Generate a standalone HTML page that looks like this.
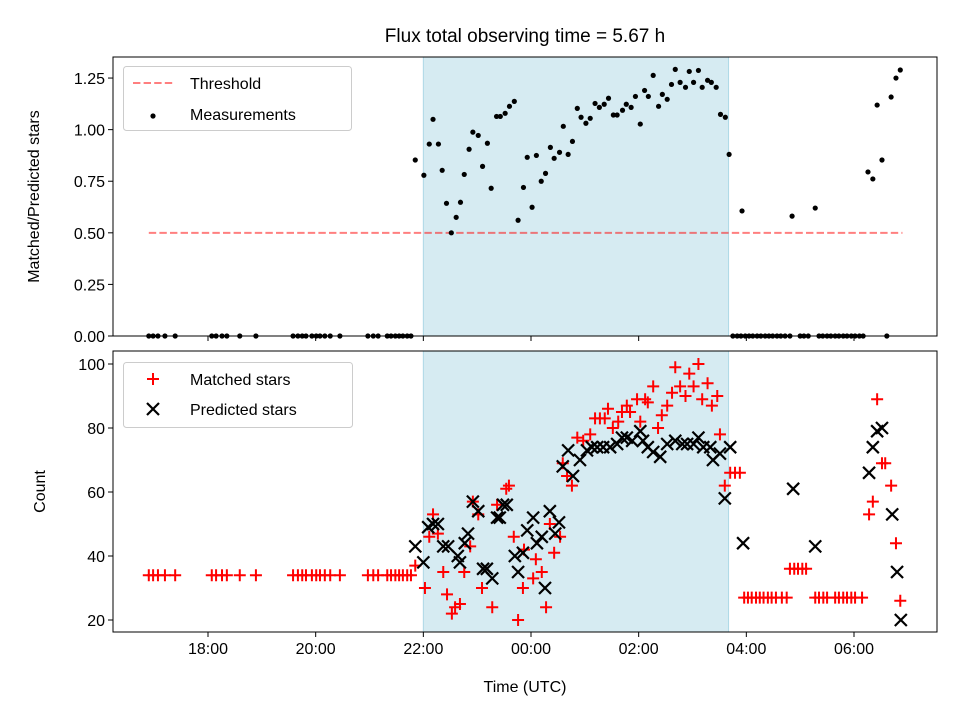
<!DOCTYPE html>
<html><head><meta charset="utf-8"><style>
body{margin:0;background:#fff;}
svg{display:block;font-family:"Liberation Sans","DejaVu Sans",sans-serif;}
</style></head><body>
<svg id="chart" width="960" height="720"></svg>
<script>
// ---- data (times in hours UTC; >24 means after midnight) ----
const ratioZeroTimes=[16.90,16.98,17.07,17.20,17.39,18.07,18.15,18.26,18.35,18.59,18.89,19.58,19.67,19.75,19.82,19.93,20.01,20.08,20.17,20.27,20.45,20.97,21.07,21.16,21.33,21.40,21.48,21.55,21.62,21.70,21.77,
27.75,27.83,27.90,27.98,28.05,28.12,28.20,28.27,28.35,28.42,28.49,28.57,28.64,28.72,28.81,29.00,29.07,29.15,29.35,29.42,29.50,29.57,29.65,29.72,29.80,29.87,29.95,30.02,30.10,30.17,30.61];
const ratioTimes=[21.85,22.01,22.11,22.18,22.28,22.35,22.43,22.52,22.61,22.69,22.76,22.85,22.92,23.02,23.10,23.19,23.26,23.36,23.43,23.52,23.60,23.69,23.76,23.86,23.93,24.02,24.10,24.19,24.27,24.36,24.43,24.53,24.60,24.69,24.77,24.86,24.93,25.02,25.10,25.19,25.27,25.36,25.44,25.53,25.60,25.70,25.77,25.86,25.94,26.03,26.11,26.18,26.27,26.37,26.44,26.53,26.61,26.68,26.77,26.87,26.94,27.02,27.11,27.18,27.28,27.35,27.44,27.52,27.61,27.68,27.92,28.85,29.28,30.26,30.35,30.43,30.52,30.69,30.78,30.86];
const ratioValues=[0.853,0.779,0.930,1.050,0.930,0.803,0.643,0.50,0.575,0.648,0.783,0.905,0.988,0.972,0.822,0.934,0.716,1.064,1.064,1.079,1.113,1.137,0.561,0.720,0.866,0.624,0.875,0.750,0.788,0.914,0.861,0.890,1.016,0.880,0.943,1.103,1.060,1.031,1.055,1.127,1.108,1.123,1.152,1.071,1.071,1.094,1.123,1.108,1.161,1.027,1.190,1.161,1.263,1.113,1.171,1.147,1.219,1.292,1.229,1.205,1.282,1.229,1.287,1.205,1.239,1.229,1.205,1.074,1.060,0.880,0.606,0.581,0.620,0.795,0.761,1.119,0.853,1.158,1.250,1.289];
const threshold=0.5;
const matchedTimes=[16.90,16.98,17.07,17.20,17.39,18.07,18.15,18.26,18.35,18.59,18.89,19.58,19.67,19.75,19.82,19.93,20.01,20.08,20.17,20.27,20.45,20.97,21.07,21.16,21.33,21.40,21.48,21.55,21.62,21.70,21.77,
23.59,23.54,24.76,22.18,22.92,23.37,23.02,22.11,22.27,22.87,21.85,22.03,22.37,22.44,22.76,22.68,22.59,22.53,23.09,23.28,23.68,23.87,24.09,24.20,24.04,23.85,23.76,24.28,24.43,24.35,24.54,
26.68,27.11,26.94,26.27,26.77,27.02,27.28,26.62,26.87,27.18,27.46,25.97,26.12,26.17,27.36,26.53,25.43,25.78,25.19,25.28,25.37,25.69,25.84,26.43,25.62,25.52,26.03,26.36,25.10,24.86,24.97,27.51,24.59,24.67,
27.70,27.79,27.88,27.60,
27.96,28.03,28.10,28.18,28.25,28.32,28.40,28.47,28.55,28.66,28.75,28.81,28.89,28.96,29.04,29.11,29.28,29.35,29.43,29.50,29.65,29.72,29.80,29.87,29.95,30.02,30.15,
30.43,30.52,30.58,30.69,30.35,30.28,30.78,30.86];
const matchedValues=[34,34,34,34,34,34,34,34,34,34,34,34,34,34,34,34,34,34,34,34,34,34,34,34,34,34,34,34,34,34,34,
62,61,62,53,57,56,53,46,47,43,37,30,35,28,35,25,24,22,30,24,46,42,39,35,33,30,20,24,41,50,46,
99,100,97,93,93,93,94,91,90,89,90,89,89,88,87,87,86,87,83,83,83,85,85,84,82,80,82,80,78,77,76,78,69,65,
66,66,66,62,
27,27,27,27,27,27,27,27,27,27,27,36,36,36,36,36,27,27,27,27,27,27,27,27,27,27,27,
89,69,69,62,57,53,44,26];
const predictedTimes=[21.85,22.09,22.18,22.27,22.00,22.37,22.46,22.64,22.68,22.83,22.77,22.92,23.02,23.11,23.18,23.28,23.37,23.42,23.48,23.55,23.70,23.76,23.85,23.93,24.04,24.11,24.20,24.26,24.35,24.45,24.52,
24.69,24.59,24.78,24.91,25.04,25.13,25.23,25.34,25.47,25.60,25.69,25.78,25.88,26.03,26.08,26.17,26.27,26.40,26.53,26.68,26.81,26.90,27.02,27.11,27.20,27.33,27.38,27.51,27.70,27.60,
27.94,28.87,29.28,30.28,30.35,30.43,30.52,30.71,30.80,30.87];
const predictedValues=[43,49,50,50,38,43,43,40,38,47,44,57,54,36,36,33,52,52,56,56,40,35,41,48,52,44,46,30,54,47,50.5,
73,68,65,70,73,74,74,74,74,75,77,77,76,79,76,74,72.5,71,75,76,75,75,75,77,74,74,70,72,74,58,
44,61,43,66,74,79,80,53,35,20];
const xTicks=[18,20,22,24,26,28,30];
const xTickLabels=["18:00","20:00","22:00","00:00","02:00","04:00","06:00"];
const topTicks=[0,0.25,0.5,0.75,1.0,1.25];
const topTickLabels=["0.00","0.25","0.50","0.75","1.00","1.25"];
const botTicks=[20,40,60,80,100];
const botTickLabels=["20","40","60","80","100"];
const shadeStart=22.0, shadeEnd=27.67;

// ---- layout ----
const NS="http://www.w3.org/2000/svg";
const svg=document.getElementById('chart');
const L=113,R=937,T1=57,B1=336,T2=351,B2=632;
const xMin=16.235,xMax=31.542;
const X=t=>L+(t-xMin)/(xMax-xMin)*(R-L);
const Y1=v=>B1-(v-0)/(1.352-0)*(B1-T1);
const Y2=v=>B2-(v-16.25)/(104.06-16.25)*(B2-T2);
function el(tag,attrs,parent){const e=document.createElementNS(NS,tag);for(const k in attrs)e.setAttribute(k,attrs[k]);(parent||svg).appendChild(e);return e;}
function txt(s,attrs,parent){const e=el('text',attrs,parent);e.textContent=s;return e;}

// title
let t0=txt("Flux total observing time = 5.67 h",{x:525,y:42,'font-size':19,'text-anchor':'middle',fill:'#000'});



function panel(top,bot,name){
  const g=el('g',{});
  
  
  const sh=el('rect',{x:X(shadeStart),y:top,width:X(shadeEnd)-X(shadeStart),height:bot-top,fill:'#add8e6','fill-opacity':0.5,stroke:'#add8e6','stroke-width':1},g);
  
  
  return g;
}
function frame(g,top,bot){
  const f=el('rect',{x:L,y:top,width:R-L,height:bot-top,fill:'none',stroke:'#000','stroke-width':1},g);
  
  
}
function xAxis(g,bot,labels){
  xTicks.forEach((t,i)=>{
    const x=X(t);
    const tk=el('line',{x1:x,x2:x,y1:bot,y2:bot+5,stroke:'#000','stroke-width':1},g);
    
    
    if(labels){const lb=txt(xTickLabels[i],{x:x,y:bot+22,'font-size':16,'text-anchor':'middle'},g);
      
      }
  });
}
function yAxis(g,ticks,labels,Y){
  ticks.forEach((v,i)=>{
    const y=Y(v);
    const tk=el('line',{x1:L-5,x2:L,y1:y,y2:y,stroke:'#000','stroke-width':1},g);
    
    
    const lb=txt(labels[i],{x:L-8,y:y+6,'font-size':16,'text-anchor':'end'},g);
    
    
  });
}
function plus(g,x,y){const p=el('path',{d:`M${x-6},${y}H${x+6}M${x},${y-6}V${y+6}`,stroke:'#ff0000','stroke-width':2,fill:'none'},g);return p;}
function cross(g,x,y){const p=el('path',{d:`M${x-6},${y-6}L${x+6},${y+6}M${x-6},${y+6}L${x+6},${y-6}`,stroke:'#000','stroke-width':2.2,fill:'none'},g);return p;}

// ---- top panel ----
const g1=panel(T1,B1,'ratio-panel');
const thr=el('line',{x1:X(16.9),x2:X(30.9),y1:Y1(threshold),y2:Y1(threshold),stroke:'#ff0000','stroke-opacity':0.5,'stroke-width':2,'stroke-dasharray':'7.4,3.2'},g1);


ratioZeroTimes.forEach(t=>{const c=el('circle',{cx:X(t),cy:Y1(0),r:2.6,fill:'#000'},g1);
  
  });
ratioTimes.forEach((t,i)=>{const c=el('circle',{cx:X(t),cy:Y1(ratioValues[i]),r:2.6,fill:'#000'},g1);
  
  });
frame(g1,T1,B1);
xAxis(g1,B1,false);
yAxis(g1,topTicks,topTickLabels,Y1);
let yl1=txt("Matched/Predicted stars",{x:0,y:0,'font-size':16,'text-anchor':'middle',transform:`translate(39,${(T1+B1)/2}) rotate(-90)`},g1);


// legend top
const lg1=el('g',{},g1);


el('rect',{x:123.5,y:66.5,width:228,height:64,rx:3,fill:'#fff','fill-opacity':0.85,stroke:'#ccc'},lg1);
el('line',{x1:133,x2:173,y1:83,y2:83,stroke:'#ff0000','stroke-opacity':0.5,'stroke-width':2,'stroke-dasharray':'7.4,3.2'},lg1);
let le1=txt("Threshold",{x:190,y:89,'font-size':16},lg1);


el('circle',{cx:153,cy:116,r:2.6,fill:'#000'},lg1);
let le2=txt("Measurements",{x:190,y:120,'font-size':16},lg1);



// ---- bottom panel ----
const g2=panel(T2,B2,'count-panel');
matchedTimes.forEach((t,i)=>{const p=plus(g2,X(t),Y2(matchedValues[i]));
  
  });
predictedTimes.forEach((t,i)=>{const p=cross(g2,X(t),Y2(predictedValues[i]));
  
  });
frame(g2,T2,B2);
xAxis(g2,B2,true);
yAxis(g2,botTicks,botTickLabels,Y2);
let yl2=txt("Count",{x:0,y:0,'font-size':16,'text-anchor':'middle',transform:`translate(45,${(T2+B2)/2}) rotate(-90)`},g2);


let xl=txt("Time (UTC)",{x:525,y:692,'font-size':16,'text-anchor':'middle'},g2);


const lg2=el('g',{},g2);


el('rect',{x:123.5,y:362.5,width:229,height:65,rx:3,fill:'#fff','fill-opacity':0.85,stroke:'#ccc'},lg2);
plus(lg2,153,379);
let le3=txt("Matched stars",{x:190,y:385,'font-size':16},lg2);


cross(lg2,153,409);
let le4=txt("Predicted stars",{x:190,y:415,'font-size':16},lg2);


</script>
</body></html>
